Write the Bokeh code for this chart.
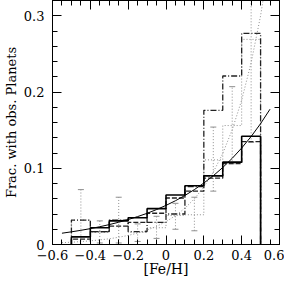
from bokeh.plotting import figure
from bokeh.models import LinearAxis, FixedTicker, CustomJSTickFormatter, Range1d
from bokeh.embed import file_html
from bokeh.resources import INLINE

# ---- data ----
bin_edges = [-0.5, -0.4, -0.3, -0.2, -0.1, 0.0, 0.1, 0.2, 0.3, 0.4, 0.5]
bin_centers = [-0.45, -0.35, -0.25, -0.15, -0.05, 0.05, 0.15, 0.25, 0.35, 0.45]

hist_solid = [0.010, 0.022, 0.031, 0.035, 0.047, 0.065, 0.077, 0.090, 0.108, 0.142]
hist_dashed = [0.007, 0.017, 0.024, 0.029, 0.041, 0.061, 0.070, 0.087, 0.106, 0.135]
hist_dashdot = [0.032, 0.017, 0.032, 0.017, 0.029, 0.040, 0.076, 0.176, 0.221, 0.277]
hist_obs = [0.032, 0.016, 0.032, 0.016, 0.022, 0.038, 0.039, 0.111, 0.156, 0.269]
err_lo = [0.000, 0.002, 0.002, 0.004, 0.008, 0.020, 0.018, 0.070, 0.106, 0.134]
err_hi = [0.072, 0.031, 0.062, 0.027, 0.037, 0.054, 0.062, 0.154, 0.207, 0.400]

curve_x = [-0.55, -0.5, -0.45, -0.4, -0.35, -0.3, -0.25, -0.2, -0.15, -0.1, -0.05,
           0.0, 0.05, 0.1, 0.15, 0.2, 0.25, 0.3, 0.35, 0.4, 0.45, 0.5, 0.55]
curve_solid = [0.0148, 0.0166, 0.0186, 0.0208, 0.0233, 0.0261, 0.0292, 0.0327, 0.0366,
               0.0409, 0.0458, 0.0513, 0.0574, 0.0643, 0.0720, 0.0806, 0.0902, 0.1010,
               0.1130, 0.1265, 0.1416, 0.1585, 0.1775]
curve_dotted = [0.0024, 0.0030, 0.0038, 0.0048, 0.0060, 0.0075, 0.0095, 0.0119, 0.0150,
                0.0189, 0.0238, 0.0300, 0.0378, 0.0476, 0.0599, 0.0754, 0.0949, 0.1194,
                0.1504, 0.1893, 0.2383, 0.3000, 0.3780]

x_ticks = [-0.6, -0.4, -0.2, 0.0, 0.2, 0.4, 0.6]
y_ticks = [0.0, 0.1, 0.2, 0.3]
x_minor = [round(-0.6 + 0.05 * i, 2) for i in range(25)]
y_minor = [round(0.02 * i, 2) for i in range(17)]

x_label = "[Fe/H]"
y_label = "Frac. with obs. Planets"

FONT = "DejaVu Serif"
GRAY = "#8f8f8f"


def outline(vals):
    xs = [bin_edges[0]]
    ys = [0.0]
    for i, v in enumerate(vals):
        xs += [bin_edges[i], bin_edges[i + 1]]
        ys += [v, v]
    xs.append(bin_edges[-1])
    ys.append(0.0)
    return xs, ys


p = figure(width=284, height=279, x_range=Range1d(-0.6, 0.6), y_range=Range1d(0, 0.32),
           output_backend="svg", toolbar_location=None,
           min_border_left=0, min_border_right=5, min_border_top=0, min_border_bottom=0)
p.grid.visible = False
p.outline_line_color = "black"
p.outline_line_width = 1
p.background_fill_color = "white"
p.border_fill_color = "white"

fmt = CustomJSTickFormatter(code="""
if (Math.abs(tick) < 1e-9) return "0";
return tick.toFixed(1).replace("-", "\u2212");
""")
blank = CustomJSTickFormatter(code='return "";')


def style(ax, ticks, minor, show_labels):
    ax.ticker = FixedTicker(ticks=ticks, minor_ticks=minor)
    ax.axis_line_color = "black"
    ax.major_tick_line_color = "black"
    ax.minor_tick_line_color = "black"
    ax.major_tick_in = 9
    ax.major_tick_out = 0
    ax.minor_tick_in = 5
    ax.minor_tick_out = 0
    ax.major_label_text_font = FONT
    ax.major_label_text_color = "black"
    if show_labels:
        ax.formatter = fmt
        ax.major_label_text_font_size = "13px"
    else:
        ax.formatter = blank
        ax.major_label_text_font_size = "1px"
        ax.major_label_standoff = 0


xa = p.xaxis[0]
ya = p.yaxis[0]
style(xa, x_ticks, x_minor, True)
style(ya, y_ticks, y_minor, True)
xa.major_label_standoff = 5
ya.major_label_standoff = 8
xa.axis_label = x_label
ya.axis_label = y_label
for ax in (xa, ya):
    ax.axis_label_text_font = FONT
    ax.axis_label_text_font_style = "normal"
    ax.axis_label_text_color = "black"
xa.axis_label_text_font_size = "14px"
ya.axis_label_text_font_size = "13px"
xa.axis_label_standoff = -2
ya.axis_label_standoff = 2

top = LinearAxis()
right = LinearAxis()
style(top, x_ticks, x_minor, False)
style(right, y_ticks, y_minor, False)
p.add_layout(top, "above")
p.add_layout(right, "right")

# observed histogram (gray dotted) with error bars
xs, ys = outline(hist_obs)
p.line(xs, ys, line_color=GRAY, line_width=1, line_dash="1 2")
p.segment(x0=bin_centers, y0=err_lo, x1=bin_centers, y1=err_hi,
          line_color=GRAY, line_width=1, line_dash="1 2")
p.dash(x=bin_centers, y=err_hi, size=6, line_color=GRAY, line_width=1)
p.dash(x=bin_centers, y=err_lo, size=6, line_color=GRAY, line_width=1)

# dash-dot histogram
xs, ys = outline(hist_dashdot)
p.line(xs, ys, line_color="#222222", line_width=1.3, line_dash="6 2 1 2")

# dashed histogram
xs, ys = outline(hist_dashed)
p.line(xs, ys, line_color="#222222", line_width=1.3, line_dash="5 2")

# solid histogram
xs, ys = outline(hist_solid)
p.line(xs, ys, line_color="black", line_width=1.6)

# fitted curves
p.line(curve_x, curve_dotted, line_color=GRAY, line_width=1, line_dash="1 2")
p.line(curve_x, curve_solid, line_color="black", line_width=1)

open("out.html", "w").write(file_html(p, INLINE))
